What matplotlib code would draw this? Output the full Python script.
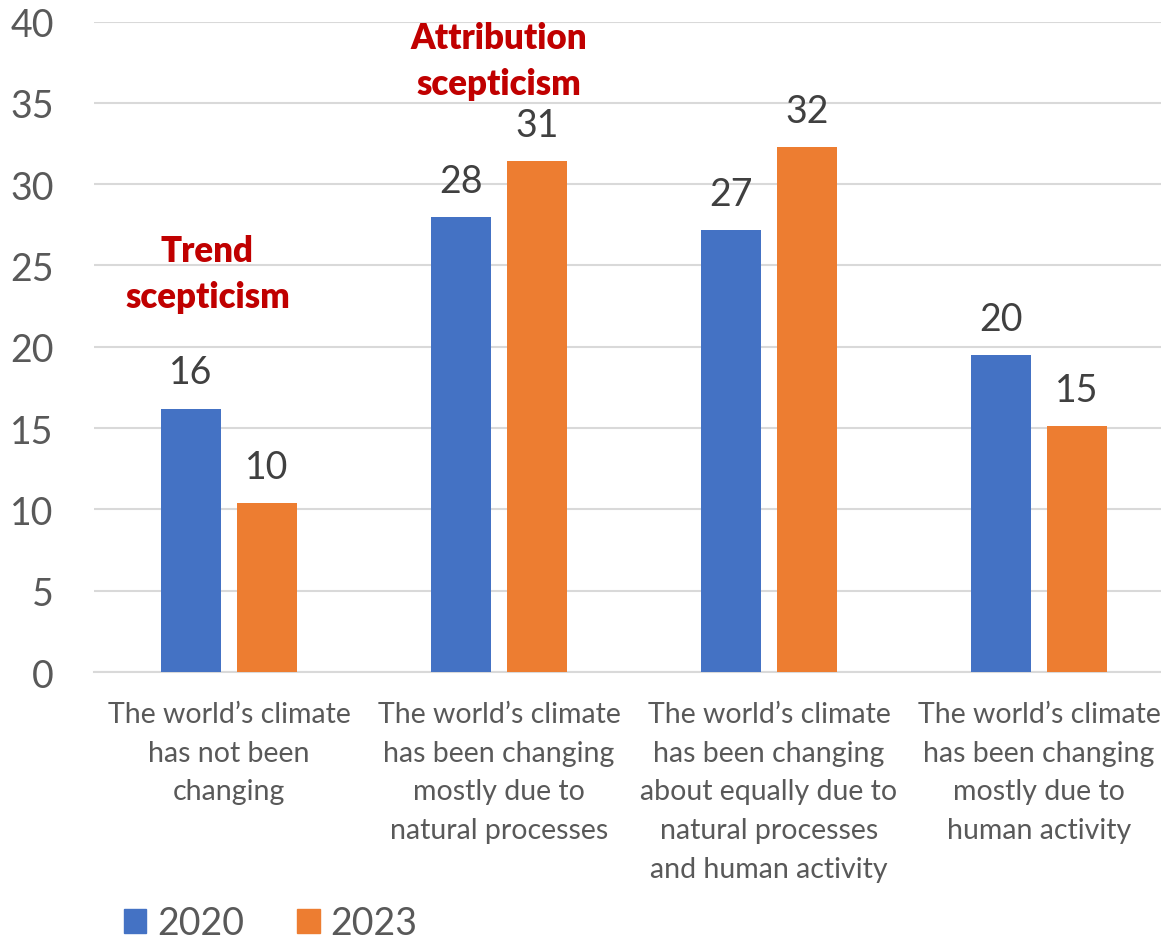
import matplotlib.pyplot as plt
import numpy as np
from matplotlib.patches import Patch

plt.rcParams['font.family'] = ['Lato', 'DejaVu Sans']

# Data
categories = [
    "The world\u2019s climate\nhas not been\nchanging",
    "The world\u2019s climate\nhas been changing\nmostly due to\nnatural processes",
    "The world\u2019s climate\nhas been changing\nabout equally due to\nnatural processes\nand human activity",
    "The world\u2019s climate\nhas been changing\nmostly due to\nhuman activity",
]
years = ["2020", "2023"]
values_2020 = [16.2, 28.0, 27.2, 19.5]
values_2023 = [10.4, 31.4, 32.3, 15.1]
colors = ["#4472C4", "#ED7D31"]

fig = plt.figure(figsize=(11.61, 9.45), dpi=100)
# axes deliberately extends past the right edge (reference is cropped)
ax = fig.add_axes([94 / 1161, 272 / 945, 1080 / 1161, 650.5 / 945])

x = np.arange(len(categories))
w = 0.222
off = 0.141
for vals, dx, c in [(values_2020, -off, colors[0]), (values_2023, off, colors[1])]:
    bars = ax.bar(x + dx, vals, width=w, color=c, zorder=3)
    for b, v in zip(bars, vals):
        ax.annotate(f"{v:.0f}", (b.get_x() + b.get_width() / 2, v),
                    xytext=(0, 26), textcoords="offset points",
                    ha="center", va="center", fontsize=27, color="#404040")

ax.set_xlim(-0.5, 3.5)
ax.set_ylim(0, 40)
ax.set_yticks(range(0, 41, 5))
ax.yaxis.grid(True, color="#d9d9d9", linewidth=1.5, zorder=0)
ax.set_axisbelow(True)
for s in ["top", "right", "left"]:
    ax.spines[s].set_visible(False)
ax.spines["bottom"].set_color("#d9d9d9")
ax.spines["bottom"].set_linewidth(1.5)
ax.tick_params(axis="y", length=0, pad=29, labelsize=27, labelcolor="#595959")
ax.tick_params(axis="x", length=0, pad=21, labelsize=20.5, labelcolor="#595959")
ax.set_xticks(x)
ax.set_xticklabels(categories)
for lbl in ax.get_xticklabels():
    lbl.set_linespacing(1.6)

# red annotations
ax.text(-0.08, 24.5, "Trend\nscepticism", ha="center", va="center",
        fontsize=25, fontweight="heavy", color="#C00000", linespacing=1.5)
ax.text(1.0, 37.6, "Attribution\nscepticism", ha="center", va="center",
        fontsize=25, fontweight="heavy", color="#C00000", linespacing=1.5)

handles = [Patch(color=c) for c in colors]
fig.legend(handles, years, loc="lower left", bbox_to_anchor=(90 / 1161, -0.033),
           ncol=2, frameon=False, fontsize=27, labelcolor="#595959",
           handlelength=0.6, handleheight=0.6, handletextpad=0.3,
           columnspacing=1.4)

fig.savefig("out.png", dpi=100)
